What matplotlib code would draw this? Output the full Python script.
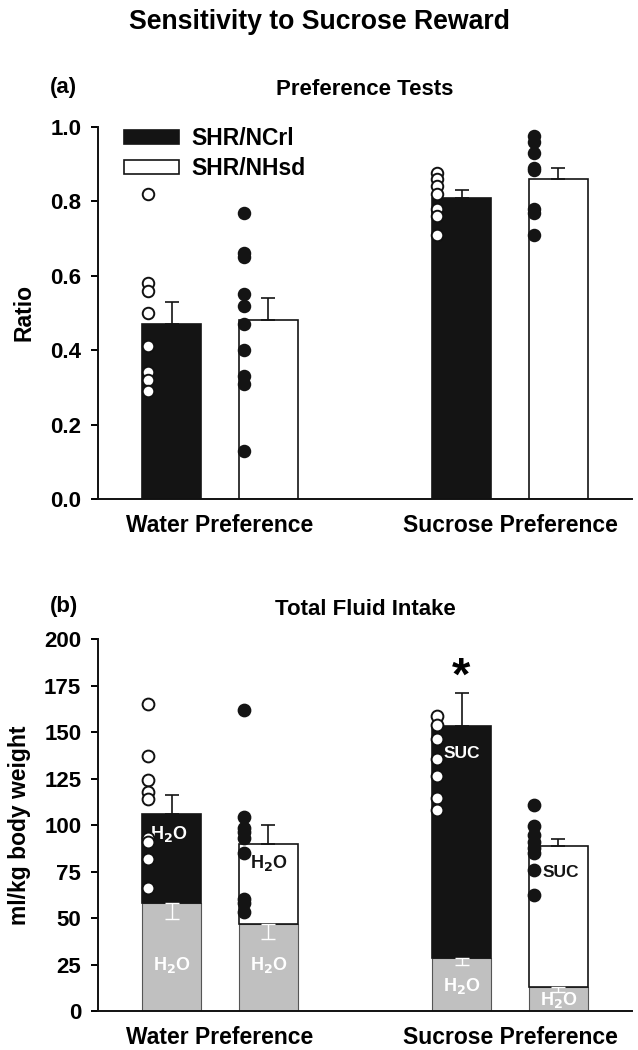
import matplotlib
matplotlib.use("Agg")
import matplotlib.pyplot as plt
from matplotlib.patches import Patch
import numpy as np

plt.rcParams['font.family'] = ['Liberation Sans', 'DejaVu Sans']
plt.rcParams['font.weight'] = 'bold'

# ---------------- data ----------------
groups = ["Water Preference", "Sucrose Preference"]
strains = ["SHR/NCrl", "SHR/NHsd"]

# Panel (a) preference ratios
ratio_mean_ncrl = [0.47, 0.81]
ratio_err_ncrl = [0.06, 0.02]
ratio_mean_nhsd = [0.48, 0.86]
ratio_err_nhsd = [0.06, 0.03]
ratio_pts_ncrl_water = [0.82, 0.58, 0.56, 0.50, 0.41, 0.34, 0.32, 0.29]
ratio_pts_nhsd_water = [0.77, 0.66, 0.65, 0.55, 0.52, 0.47, 0.40, 0.33, 0.31, 0.13]
ratio_pts_ncrl_suc = [0.875, 0.86, 0.84, 0.82, 0.78, 0.76, 0.71]
ratio_pts_nhsd_suc = [0.975, 0.96, 0.93, 0.89, 0.885, 0.78, 0.77, 0.71]

# Panel (b) fluid intake (ml/kg body weight)
total_ncrl = [106, 153]
total_err_ncrl = [10, 18]
total_nhsd = [90, 88.5]
total_err_nhsd = [10, 4]
water_ncrl = [58, 28.5]
water_err_ncrl = [8.5, 3.5]
water_nhsd = [47, 13]
water_err_nhsd = [8, 2.5]
intake_pts_ncrl_water = [165, 137, 124, 118, 114, 93, 91, 81.5, 66]
intake_pts_nhsd_water = [162, 104.5, 98.5, 96, 93, 85, 60.5, 58, 53.5]
intake_pts_ncrl_suc = [158.5, 154, 146, 135.5, 126.5, 114.5, 108]
intake_pts_nhsd_suc = [111, 99.5, 94.5, 91, 87.5, 85, 76, 62.5]
top_labels = [["H$_2$O", "H$_2$O"], ["SUC", "SUC"]]

# ---------------- styling ----------------
BLACK = "#141414"
GRAY = "#c0c0c0"
W = 0.203
OFF = 0.167
xg = np.arange(len(groups))
x_ncrl = xg - OFF
x_nhsd = xg + OFF
pt_ncrl = xg - 0.25
pt_nhsd = xg + 0.083

fig = plt.figure(figsize=(6.38, 10.5), dpi=100)
ax1 = fig.add_axes([0.1536, 0.5248, 0.837, 0.3543])
ax2 = fig.add_axes([0.1536, 0.0371, 0.837, 0.3543])

TICKFS = 16
XFS = 16.5


def style(ax, ylim, yticks, fmt):
    ax.set_xlim(-0.421, 1.421)
    ax.set_ylim(*ylim)
    for s in ["top", "right"]:
        ax.spines[s].set_visible(False)
    for s in ["left", "bottom"]:
        ax.spines[s].set_linewidth(1.4)
        ax.spines[s].set_color("#111111")
    ax.set_yticks(yticks)
    ax.set_yticklabels([fmt.format(v) for v in yticks], fontsize=TICKFS, fontweight='bold')
    ax.tick_params(axis='y', direction='out', length=5, width=1.4, pad=7)
    ax.set_xticks(xg)
    ax.set_xticklabels(groups, fontsize=XFS, fontweight='bold')
    ax.tick_params(axis='x', length=0, pad=11)


def points(ax, x, vals, filled, ms):
    ax.plot([x] * len(vals), vals, 'o', ms=ms,
            mfc=BLACK if filled else 'white', mec=BLACK if filled else "#111111",
            mew=1.4, zorder=5, clip_on=False)

# ---------------- panel (a) ----------------
style(ax1, (0, 1.0), np.arange(0, 1.01, 0.2), "{:.1f}")
ax1.bar(x_ncrl, ratio_mean_ncrl, W, color=BLACK, edgecolor=BLACK, lw=1.2, zorder=2)
ax1.bar(x_nhsd, ratio_mean_nhsd, W, color='white', edgecolor=BLACK, lw=1.2, zorder=2)
ax1.errorbar(x_ncrl, ratio_mean_ncrl, yerr=[np.zeros(2), ratio_err_ncrl], fmt='none',
             ecolor=BLACK, elinewidth=1.2, capsize=5, capthick=1.2, zorder=3)
ax1.errorbar(x_nhsd, ratio_mean_nhsd, yerr=[np.zeros(2), ratio_err_nhsd], fmt='none',
             ecolor=BLACK, elinewidth=1.2, capsize=5, capthick=1.2, zorder=3)
points(ax1, pt_ncrl[0], ratio_pts_ncrl_water, False, 8.3)
points(ax1, pt_nhsd[0], ratio_pts_nhsd_water, True, 8.3)
points(ax1, pt_ncrl[1], ratio_pts_ncrl_suc, False, 8.3)
points(ax1, pt_nhsd[1], ratio_pts_nhsd_suc, True, 8.3)
ax1.set_ylabel("Ratio", fontsize=16.5, fontweight='bold')
ax1.yaxis.set_label_coords(-0.117, 0.5)
handles = [Patch(facecolor=BLACK, edgecolor=BLACK, lw=1.2),
           Patch(facecolor='white', edgecolor=BLACK, lw=1.2)]
ax1.legend(handles, strains, loc='upper left', bbox_to_anchor=(0.01, 1.054),
           frameon=False, handlelength=2.4, handleheight=0.55,
           handletextpad=0.55, labelspacing=0.3, prop={'weight': 'bold', 'size': 16.5})
ax1.set_title("Preference Tests", fontsize=16, fontweight='bold', pad=23)
fig.text(0.1, 0.917, "(a)", fontsize=16, fontweight='bold', ha='center', va='center')

# ---------------- panel (b) ----------------
style(ax2, (0, 200), np.arange(0, 201, 25), "{:d}")
ax2.bar(x_ncrl, water_ncrl, W, color=GRAY, edgecolor="#555555", lw=0.8, zorder=2)
ax2.bar(x_nhsd, water_nhsd, W, color=GRAY, edgecolor="#555555", lw=0.8, zorder=2)
top_ncrl = np.array(total_ncrl) - np.array(water_ncrl)
top_nhsd = np.array(total_nhsd) - np.array(water_nhsd)
ax2.bar(x_ncrl, top_ncrl, W, bottom=water_ncrl, color=BLACK, edgecolor=BLACK, lw=1.2, zorder=2)
ax2.bar(x_nhsd, top_nhsd, W, bottom=water_nhsd, color='white', edgecolor=BLACK, lw=1.2, zorder=2)
ax2.errorbar(x_ncrl, total_ncrl, yerr=[np.zeros(2), total_err_ncrl], fmt='none',
             ecolor=BLACK, elinewidth=1.2, capsize=5, capthick=1.2, zorder=3)
ax2.errorbar(x_nhsd, total_nhsd, yerr=[np.zeros(2), total_err_nhsd], fmt='none',
             ecolor=BLACK, elinewidth=1.2, capsize=5, capthick=1.2, zorder=3)
ax2.errorbar(x_ncrl, water_ncrl, yerr=[water_err_ncrl, np.zeros(2)], fmt='none',
             ecolor='white', elinewidth=1.0, capsize=5, capthick=1.0, zorder=3)
ax2.errorbar(x_nhsd, water_nhsd, yerr=[water_err_nhsd, np.zeros(2)], fmt='none',
             ecolor='white', elinewidth=1.0, capsize=5, capthick=1.0, zorder=3)
points(ax2, pt_ncrl[0], intake_pts_ncrl_water, False, 8.5)
points(ax2, pt_nhsd[0], intake_pts_nhsd_water, True, 8.5)
points(ax2, pt_ncrl[1], intake_pts_ncrl_suc, False, 8.5)
points(ax2, pt_nhsd[1], intake_pts_nhsd_suc, True, 8.5)

# in-bar labels
lab_fs = 13
for i in range(2):
    ax2.text(x_ncrl[i], water_ncrl[i] * (0.43 if i == 0 else 0.48), "H$_2$O", color='white',
             fontsize=lab_fs, fontweight='bold', ha='center', va='center', zorder=4)
    ax2.text(x_nhsd[i], water_nhsd[i] * (0.53 if i == 0 else 0.45), "H$_2$O", color='white',
             fontsize=lab_fs, fontweight='bold', ha='center', va='center', zorder=4)
ax2.text(x_ncrl[0] - 0.01, 95, top_labels[0][0], color='white', fontsize=lab_fs,
         fontweight='bold', ha='center', va='center', zorder=4)
ax2.text(x_nhsd[0], 79.5, top_labels[0][1], color=BLACK, fontsize=lab_fs,
         fontweight='bold', ha='center', va='center', zorder=4)
ax2.text(x_ncrl[1], 138.5, top_labels[1][0], color='white', fontsize=12.5,
         fontweight='bold', ha='center', va='center', zorder=4)
ax2.text(x_nhsd[1] + 0.01, 74.5, top_labels[1][1], color=BLACK, fontsize=12.5,
         fontweight='bold', ha='center', va='center', zorder=4)
ax2.text(x_ncrl[1], total_ncrl[1] + total_err_ncrl[1] + 8, "*", fontsize=34,
         fontweight='bold', ha='center', va='center')
ax2.set_ylabel("ml/kg body weight", fontsize=16.5, fontweight='bold')
ax2.yaxis.set_label_coords(-0.125, 0.5)
ax2.set_title("Total Fluid Intake", fontsize=16, fontweight='bold', pad=17)
fig.text(0.1, 0.422, "(b)", fontsize=16, fontweight='bold', ha='center', va='center')

fig.text(0.5, 0.979, "Sensitivity to Sucrose Reward", fontsize=19.2, fontweight='bold',
         ha='center', va='center')

fig.savefig("out.png", dpi=100)
